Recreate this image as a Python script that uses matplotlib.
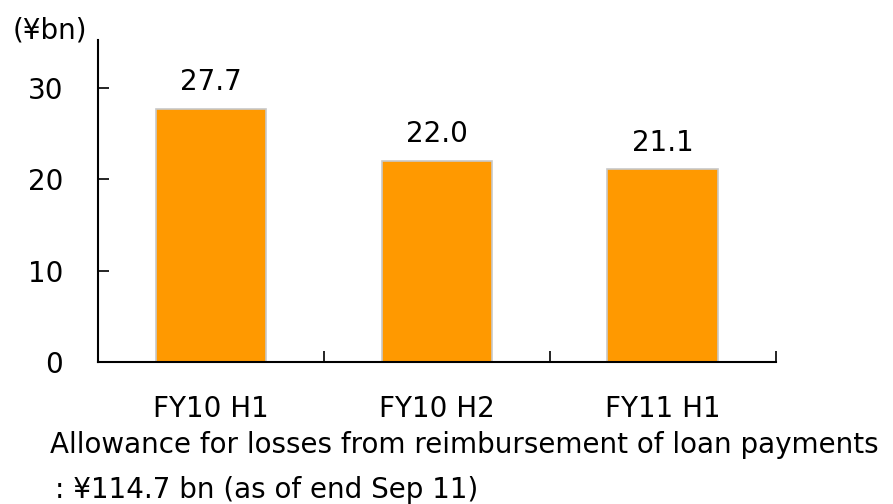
import matplotlib.pyplot as plt
import numpy as np

plt.rcParams['font.family'] = ['DejaVu Sans']

periods = ['FY10 H1', 'FY10 H2', 'FY11 H1']
values = [27.7, 22.0, 21.1]
yticks = [0, 10, 20, 30]

FS = 20

fig = plt.figure(figsize=(8.93, 5.04), dpi=100)
ax = fig.add_axes([0.1097, 0.2817, 0.759, 0.639])

x = np.arange(len(periods))
ax.bar(x, values, width=0.49, color='#FF9900', edgecolor='#C8C8C8', linewidth=1.2)
for xi, v in zip(x, values):
    ax.text(xi, v + 2.0, f'{v:.1f}', ha='center', va='baseline', fontsize=FS)

ax.set_xlim(-0.5, len(periods) - 0.5)
ax.set_ylim(0, 35.2)
ax.set_yticks(yticks)
ax.tick_params(axis='y', direction='in', length=8, width=1.2, labelsize=FS, pad=25)

# category boundaries as ticks, labels as minor ticks
ax.set_xticks(np.arange(len(periods) + 1) - 0.5)
ax.set_xticklabels([])
ax.tick_params(axis='x', which='major', direction='in', length=8, width=1.2)
ax.set_xticks(x, minor=True)
ax.set_xticklabels(periods, minor=True)
ax.tick_params(axis='x', which='minor', length=0, labelsize=FS, pad=24)

for s in ['top', 'right']:
    ax.spines[s].set_visible(False)
for s in ['left', 'bottom']:
    ax.spines[s].set_linewidth(1.5)

fig.text(0.014, 0.94, '(¥bn)', fontsize=FS, va='center')
fig.text(0.056, 0.1012, 'Allowance for losses from reimbursement of loan payments',
         fontsize=FS, va='baseline')
fig.text(0.062, 0.012, ': ¥114.7 bn (as of end Sep 11)', fontsize=FS, va='baseline')

fig.savefig('out.png', dpi=100)
